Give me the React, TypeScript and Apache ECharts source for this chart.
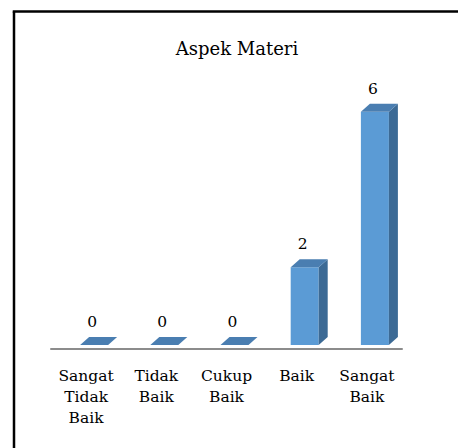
import React, { useEffect, useRef } from "react";
import * as echarts from "echarts";

const categories = ["Sangat\nTidak\nBaik", "Tidak\nBaik", "Cukup\nBaik", "Baik", "Sangat\nBaik"];
const values = [0, 0, 0, 2, 6];
const chartTitle = "Aspek Materi";

const FONT = "'DejaVu Serif', serif";

export default function App() {
  const ref = useRef<HTMLDivElement>(null);
  useEffect(() => {
    if (!ref.current) return;
    const chart = echarts.init(ref.current, null, { renderer: "svg" });
    const dx = 9;
    const dy = 8;
    const option: any = {
      animation: false,
      backgroundColor: "#ffffff",
      title: {
        text: chartTitle,
        left: 232,
        top: 34,
        textAlign: "center",
        textStyle: { fontFamily: FONT, fontSize: 18, fontWeight: "normal", color: "#000" },
      },
      grid: { left: 51, right: 56, top: 38, bottom: 99 },
      xAxis: {
        type: "category",
        data: categories,
        axisLine: { show: true, lineStyle: { color: "#8c8c8c", width: 2 } },
        axisTick: { show: false },
        axisLabel: {
          interval: 0,
          margin: 16,
          fontFamily: FONT,
          fontSize: 15.5,
          lineHeight: 21,
          color: "#000",
        },
      },
      yAxis: { type: "value", min: 0, max: 8, show: false, splitLine: { show: false } },
      graphic: [
        { type: "line", shape: { x1: 14, y1: 11.5, x2: 14, y2: 448 }, style: { stroke: "#000", lineWidth: 2.5 } },
        { type: "line", shape: { x1: 12.75, y1: 11.5, x2: 458, y2: 11.5 }, style: { stroke: "#000", lineWidth: 2.5 } },
      ],
      series: [
        {
          type: "custom",
          data: values.map((v, i) => [i, v]),
          encode: { x: 0, y: 1 },
          renderItem: (params: any, api: any) => {
            const i = api.value(0);
            const v = api.value(1);
            const base = api.coord([i, 0]);
            const topP = api.coord([i, v]);
            const cx = base[0];
            const y0 = base[1] - 4;
            const y1 = topP[1] - 4;
            const xl = cx - 6;
            const xr = cx + 22;
            return {
              type: "group",
              children: [
                {
                  type: "rect",
                  shape: { x: xl, y: y1, width: xr - xl, height: y0 - y1 },
                  style: { fill: "#5b9bd5" },
                },
                {
                  type: "polygon",
                  shape: { points: [[xr, y1], [xr + dx, y1 - dy], [xr + dx, y0 - dy], [xr, y0]] },
                  style: { fill: "#3c6a95" },
                },
                {
                  type: "polygon",
                  shape: { points: [[xl, y1], [xr, y1], [xr + dx, y1 - dy], [xl + dx, y1 - dy]] },
                  style: { fill: "#4a7eb1" },
                },
                {
                  type: "text",
                  style: {
                    x: cx + 6,
                    y: y1 - dy - 15,
                    text: String(v),
                    align: "center",
                    verticalAlign: "middle",
                    fontFamily: FONT,
                    fontSize: 15.5,
                    fill: "#000",
                  },
                },
              ],
            };
          },
        },
      ],
    };
    chart.setOption(option);
    return () => chart.dispose();
  }, []);
  return (
    <div
      ref={ref}
      style={{ position: "absolute", left: 0, top: 0, width: 458, height: 448 }}
    />
  );
}
